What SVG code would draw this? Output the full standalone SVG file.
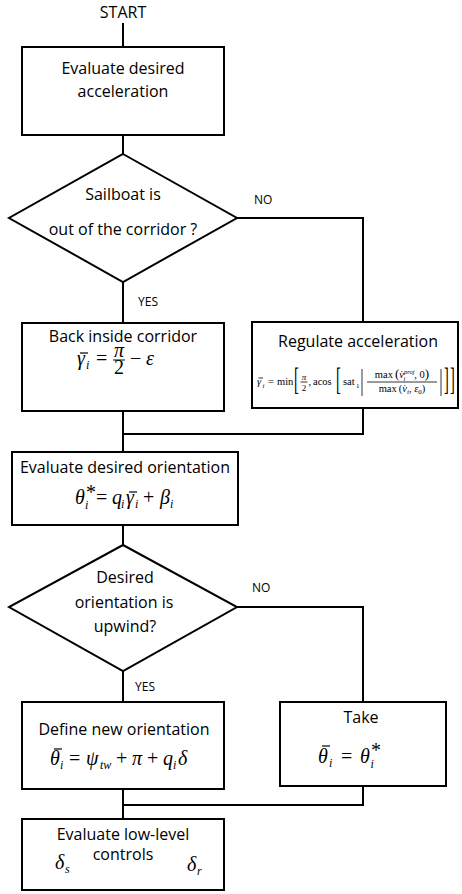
<svg xmlns="http://www.w3.org/2000/svg" width="462" height="894" viewBox="0 0 462 894">
<style>
.t{font-family:"Open Sans","Liberation Sans",sans-serif;font-size:16px;fill:#000;text-anchor:middle}
.s{font-family:"Open Sans","Liberation Sans",sans-serif;font-size:12px;fill:#000}
.m{font-family:"Liberation Serif",serif;font-style:italic;font-size:20px;fill:#000}
.u{font-family:"Liberation Serif",serif;font-size:20px;fill:#000}
.sb{font-family:"Liberation Serif",serif;font-style:italic;font-size:12px;fill:#000}
.rg{font-family:"Liberation Serif",serif;font-size:10.5px;fill:#000}
.box{fill:#fff;stroke:#000;stroke-width:2}
.ln{fill:none;stroke:#000;stroke-width:2}
.bar{fill:none;stroke:#000;stroke-width:1.2}
.fl{fill:none;stroke:#000;stroke-width:0.8}
</style>
<rect width="462" height="894" fill="#fff"/>
<g id="connectors" class="ln">
<path d="M123,23 V47"/>
<path d="M123,135 V154"/>
<path d="M237,218 H363 V322"/>
<path d="M123,282 V323"/>
<path d="M123,411 V452"/>
<path d="M363,408 V434 H123"/>
<path d="M123,525 V545"/>
<path d="M237,607 H363 V702"/>
<path d="M123,671 V702"/>
<path d="M123,789 V819"/>
<path d="M363,786 V805 H123"/>
</g>
<g id="labels">
<text class="s" x="254" y="204">NO</text>
<text class="s" x="138" y="306">YES</text>
<text class="s" x="252" y="592">NO</text>
<text class="s" x="135" y="691">YES</text>
</g>
<g id="start"><text class="t" x="123" y="18">START</text></g>
<g id="n1">
<rect class="box" x="22" y="47" width="202" height="88"/>
<text class="t" x="123" y="74">Evaluate desired</text>
<text class="t" x="123" y="97">acceleration</text>
</g>
<g id="d1">
<polygon class="box" points="123,154 237,218 123,282 9,218"/>
<text class="t" x="123" y="200">Sailboat is</text>
<text class="t" x="123" y="235">out of the corridor ?</text>
</g>
<g id="n2">
<rect class="box" x="22" y="323" width="202" height="88"/>
<text class="t" x="123" y="342">Back inside corridor</text>
<text class="m" x="77" y="365">γ</text>
<line class="bar" x1="80" y1="353" x2="88" y2="353"/>
<text class="sb" x="86" y="369">i</text>
<text class="u" x="96" y="365">=</text>
<text class="m" x="119" y="357" text-anchor="middle" font-size="17">π</text>
<line class="ln" x1="113" y1="360" x2="125" y2="360" style="stroke-width:1"/>
<text class="u" x="119" y="374" text-anchor="middle" font-size="17">2</text>
<text class="u" x="130" y="365">−</text>
<text class="m" x="146" y="365">ε</text>
</g>
<g id="n3">
<rect class="box" x="252" y="322" width="206" height="86"/>
<text class="t" x="358" y="347">Regulate acceleration</text>
<g class="rg">
<text x="257" y="385" font-style="italic">γ</text>
<line class="fl" x1="258.5" y1="378" x2="263" y2="378"/>
<text x="262.5" y="387.5" font-style="italic" font-size="7">i</text>
<text x="268" y="385">=</text>
<text x="277" y="385">min</text>
<text transform="translate(294,390) scale(0.45,1)" font-size="32">[</text>
<text x="304" y="380" font-style="italic" font-size="9" text-anchor="middle">π</text>
<line class="fl" x1="300.5" y1="382" x2="307.5" y2="382"/>
<text x="304" y="391" font-size="9" text-anchor="middle">2</text>
<text x="308.5" y="385">,</text>
<text x="313" y="385">acos</text>
<text transform="translate(336,390) scale(0.45,1)" font-size="32">[</text>
<text x="343" y="385">sat</text>
<text x="356" y="387.5" font-size="7">1</text>
<line class="fl" x1="362" y1="369" x2="362" y2="396"/>
<text x="402" y="378" text-anchor="middle">max<tspan dx="2" font-size="13">(</tspan><tspan font-style="italic">v̇</tspan><tspan font-size="6.5" font-style="italic" dy="-4">proj</tspan><tspan font-size="6.5" font-style="italic" dx="-11" dy="6.5">i</tspan><tspan dx="9" dy="-2.5">, 0</tspan><tspan font-size="13">)</tspan></text>
<line class="fl" x1="367" y1="382" x2="437" y2="382"/>
<text x="402" y="392" text-anchor="middle">max<tspan dx="2">(</tspan><tspan font-style="italic">v̇</tspan><tspan font-size="7" font-style="italic" dy="2">i</tspan><tspan dy="-2">, </tspan><tspan font-style="italic">ε</tspan><tspan font-size="7" dy="2">0</tspan><tspan dy="-2">)</tspan></text>
<line class="fl" x1="441" y1="369" x2="441" y2="396"/>
<text transform="translate(444,390) scale(0.45,1)" font-size="32">]</text>
<text transform="translate(450,390) scale(0.45,1)" font-size="32">]</text>
</g>
</g>
<g id="n4">
<rect class="box" x="12" y="452" width="226" height="73"/>
<text class="t" x="125" y="473">Evaluate desired orientation</text>
<text class="m" x="75" y="504">θ</text>
<text class="u" x="86" y="499" font-size="10">*</text>
<text class="sb" x="85" y="509">i</text>
<text class="u" x="96" y="504">=</text>
<text class="m" x="112" y="504">q</text>
<text class="sb" x="121" y="508">i</text>
<text class="m" x="126" y="504">γ</text>
<line class="bar" x1="129" y1="492" x2="137" y2="492"/>
<text class="sb" x="135" y="508">i</text>
<text class="u" x="143" y="504">+</text>
<text class="m" x="160" y="504">β</text>
<text class="sb" x="170" y="508">i</text>
</g>
<g id="d2">
<polygon class="box" points="123,545 237,607 123,671 9,607"/>
<text class="t" x="125" y="583">Desired</text>
<text class="t" x="124" y="608">orientation is</text>
<text class="t" x="125" y="632">upwind?</text>
</g>
<g id="n5">
<rect class="box" x="22" y="702" width="202" height="87"/>
<text class="t" x="124" y="735">Define new orientation</text>
<text class="m" x="50" y="765">θ</text>
<line class="bar" x1="54" y1="749" x2="62" y2="749"/>
<text class="sb" x="60" y="769">i</text>
<text class="u" x="69" y="765">=</text>
<text class="m" x="86" y="765">ψ</text>
<text class="sb" x="100" y="769">tw</text>
<text class="u" x="116" y="765">+</text>
<text class="m" x="132" y="765">π</text>
<text class="u" x="147" y="765">+</text>
<text class="m" x="163" y="765">q</text>
<text class="sb" x="173" y="769">i</text>
<text class="m" x="178" y="765">δ</text>
</g>
<g id="n6">
<rect class="box" x="280" y="702" width="166" height="84"/>
<text class="t" x="361" y="723">Take</text>
<text class="m" x="318" y="763" font-size="21">θ</text>
<line class="bar" x1="322" y1="746" x2="330" y2="746"/>
<text class="sb" x="329" y="767">i</text>
<text class="u" x="341" y="763" font-size="21">=</text>
<text class="m" x="360" y="763" font-size="21">θ</text>
<text class="u" x="371" y="757" font-size="10">*</text>
<text class="sb" x="370.5" y="768">i</text>
</g>
<g id="n7">
<rect class="box" x="22" y="819" width="202" height="71"/>
<text class="t" x="123" y="840">Evaluate low-level</text>
<text class="t" x="123" y="860">controls</text>
<text class="m" x="55" y="869">δ</text>
<text class="sb" x="65" y="873">s</text>
<text class="m" x="187" y="871">δ</text>
<text class="sb" x="197" y="875">r</text>
</g>
</svg>
